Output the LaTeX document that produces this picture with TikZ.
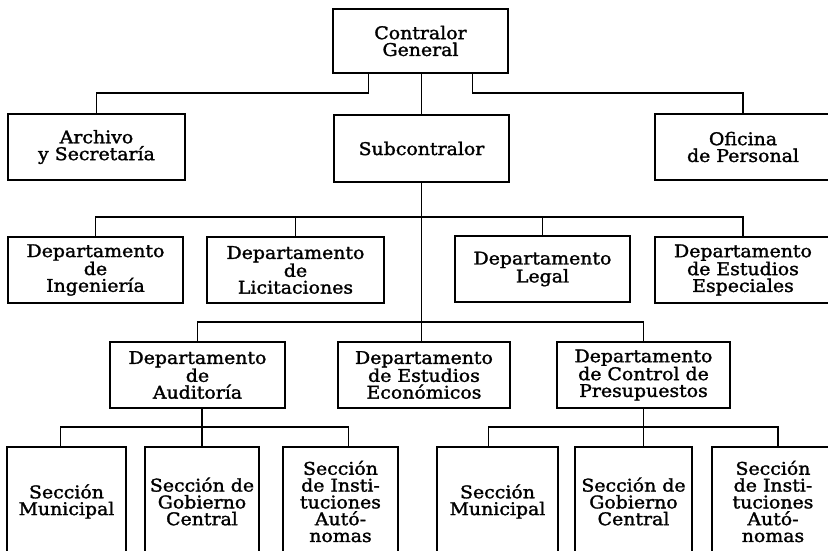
\documentclass[tikz,border=0pt]{standalone}
\usepackage{fontspec}
\setmainfont{DejaVu Serif}[FakeStretch=1.08,FakeBold=1.6]
\begin{document}
\begin{tikzpicture}[x=1pt,y=-1pt,
  box/.style={draw, line width=1.8pt, align=center, inner sep=0pt,
    font=\fontsize{17.5}{16.8}\selectfont},
  wire/.style={line width=1.8pt}]
\useasboundingbox (0,0) rectangle (828,550);
\clip (0,0) rectangle (828,550);
% levels of the buses
\coordinate (b1) at (0,93);
\coordinate (b2) at (0,217);
\coordinate (b3) at (0,322);
\coordinate (b4) at (0,427);
% nodes
\node[box, minimum width=175pt, minimum height=64pt] (cg) at (420.5,41) {Contralor\\General};
\node[box, minimum width=177pt, minimum height=66pt] (ays) at (96.5,147) {Archivo\\y Secretaría};
\node[box, minimum width=175pt, minimum height=67pt] (sub) at (421.5,148.5) {Subcontralor};
\node[box, minimum width=176pt, minimum height=66pt] (ofi) at (743,147) {Oficina\\de Personal};
\node[box, minimum width=175pt, minimum height=66pt] (ing) at (95.5,270) {Departamento\\de\\Ingeniería};
\node[box, minimum width=177pt, minimum height=66pt] (lic) at (295.5,270) {Departamento\\de\\Licitaciones};
\node[box, minimum width=175pt, minimum height=66pt] (leg) at (542.5,269) {Departamento\\Legal};
\node[box, minimum width=176pt, minimum height=66pt] (esp) at (743,270) {Departamento\\de Estudios\\Especiales};
\node[box, minimum width=175pt, minimum height=66pt] (aud) at (197.5,375) {Departamento\\de\\Auditoría};
\node[box, minimum width=172pt, minimum height=66pt] (eco) at (424,375) {Departamento\\de Estudios\\Económicos};
\node[box, minimum width=173pt, minimum height=66pt] (pre) at (643.5,375) {Departamento\\de Control de\\Presupuestos};
\node[box, minimum width=119pt, minimum height=109pt] (sm1) at (66.5,501.5) {Sección\\Municipal};
\node[box, minimum width=114pt, minimum height=109pt] (gc1) at (202,501.5) {Sección de\\Gobierno\\Central};
\node[box, minimum width=115pt, minimum height=109pt] (ia1) at (340.5,501.5) {Sección\\de Insti-\\tuciones\\Autó-\\nomas};
\node[box, minimum width=121pt, minimum height=109pt] (sm2) at (497.5,501.5) {Sección\\Municipal};
\node[box, minimum width=117pt, minimum height=109pt] (gc2) at (633.5,501.5) {Sección de\\Gobierno\\Central};
\node[box, minimum width=122pt, minimum height=109pt] (ia2) at (773,501.5) {Sección\\de Insti-\\tuciones\\Autó-\\nomas};
% connectors: top level
\draw[wire] (sub.north) -- (sub.north |- cg.south);
\draw[wire] ([xshift=-52pt]cg.south) |- (ays.north |- b1) -- (ays.north);
\draw[wire] ([xshift=52pt]cg.south) |- (ofi.north |- b1) -- (ofi.north);
% departments
\draw[wire] (ing.north) |- (esp.north |- b2) -- (esp.north);
\draw[wire] (lic.north) -- (lic.north |- b2);
\draw[wire] (leg.north) -- (leg.north |- b2);
\draw[wire] (sub.south) -- (sub.south |- eco.north);
\draw[wire] (aud.north) |- (pre.north |- b3) -- (pre.north);
% sections of Auditoría
\draw[wire] (gc1.north) -- (gc1.north |- aud.south);
\draw[wire] ([xshift=-6pt]sm1.north) |- ([xshift=8pt]ia1.north |- b4) -- ([xshift=8pt]ia1.north);
% sections of Control de Presupuestos
\draw[wire] (pre.south) -- (pre.south |- gc2.north);
\draw[wire] ([xshift=-9pt]sm2.north) |- ([xshift=5pt]ia2.north |- b4) -- ([xshift=5pt]ia2.north);
\end{tikzpicture}
\end{document}
